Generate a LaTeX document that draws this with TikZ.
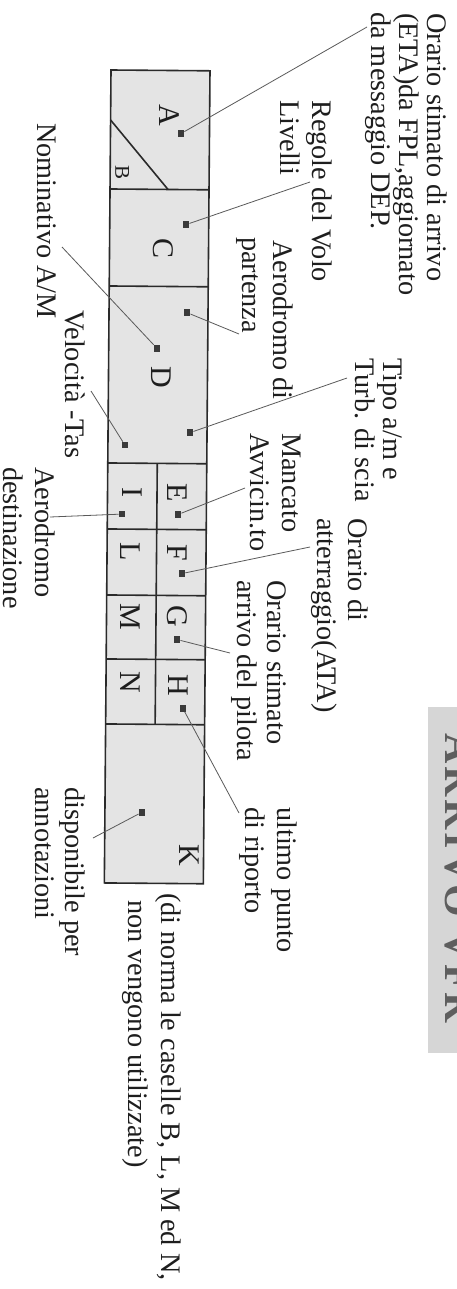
\documentclass[tikz,border=0pt]{standalone}
\usepackage{fontspec}
\setmainfont{Liberation Serif}
\definecolor{txtc}{HTML}{1E1E1E}
\definecolor{linec}{HTML}{2A2A2A}
\definecolor{boxfill}{HTML}{E4E4E4}
\definecolor{markc}{HTML}{3A3A3A}
\definecolor{leadc}{HTML}{5A5A5A}
\definecolor{barfill}{HTML}{D6D6D6}
\definecolor{bartext}{HTML}{5E5E5E}
\begin{document}
\begin{tikzpicture}[x=1pt,y=-1pt,
  lbl/.style={rotate=-90,anchor=base west,inner sep=0pt,text=txtc,font=\fontsize{28.3}{28}\selectfont},
  letter/.style={rotate=-90,anchor=center,inner sep=0pt,text=txtc,font=\fontsize{30}{30}\selectfont},
  mk/.style={rectangle,fill=markc,minimum size=6.5pt,inner sep=0pt},
  boxline/.style={draw=linec,line width=1.6pt},
  leader/.style={draw=leadc,line width=0.8pt}]
\useasboundingbox (0,0) rectangle (457,1289);
\fill[white] (0,0) rectangle (457,1289);
% title bar (cut by the page edge, as in the reference)
\begin{scope}
\clip (0,0) rectangle (457,1289);
\fill[barfill] (428,707) rectangle (470,1053);
\node[rotate=-90,anchor=base west,inner sep=0pt,text=bartext,font=\fontsize{42}{42}\selectfont\bfseries\addfontfeature{LetterSpace=7}] (title) at (445,733) {ARRIVO VFR};
\end{scope}
% the strip
\begin{scope}[rotate around={-0.47:(111,70)}]
\fill[boxfill] (111,70) rectangle (210,883);
\draw[boxline] (111,189) -- (210,189);
\draw[boxline] (111,286) -- (210,286);
\draw[boxline] (111,463) -- (210,463);
\draw[boxline] (111,529) -- (210,529);
\draw[boxline] (111,595) -- (210,595);
\draw[boxline] (111,659) -- (210,659);
\draw[boxline] (111,724) -- (210,724);
\draw[boxline] (160.5,463) -- (160.5,724);
\draw[boxline] (111,120) -- (169,189);
\draw[boxline] (111,70) rectangle (210,883);
\node[letter] (lA) at (170,115) {A};
\node[letter,font=\fontsize{21}{21}\selectfont] (lB) at (123,172) {B};
\node[letter] (lC) at (164.5,248) {C};
\node[letter] (lD) at (163.5,377) {D};
\node[letter] (lE) at (180.5,492) {E};
\node[letter] (lI) at (135.5,492) {I};
\node[letter] (lF) at (181,552) {F};
\node[letter] (lL) at (134,552) {L};
\node[letter] (lG) at (181.5,616) {G};
\node[letter] (lM) at (134.5,617) {M};
\node[letter] (lH) at (183,685) {H};
\node[letter] (lN) at (135,682) {N};
\node[letter] (lK) at (195.4,855) {K};
\node[mk] (mA) at (181.5,133) {};
\node[mk] (mC) at (187.3,224) {};
\node[mk] (mDp) at (189,312) {};
\node[mk] (mNom) at (159.3,348) {};
\node[mk] (mTipo) at (193,432) {};
\node[mk] (mVel) at (128,445) {};
\node[mk] (mE) at (181.6,514) {};
\node[mk] (mI) at (125.6,514) {};
\node[mk] (mF) at (186,573) {};
\node[mk] (mG) at (181.7,639) {};
\node[mk] (mH) at (188.2,708) {};
\node[mk] (mK) at (148,812) {};
\end{scope}
% labels
\node[lbl] (t1a) at (427,13) {Orario stimato di arrivo};
\node[lbl] (t1b) at (399,13) {(ETA)da FPL,aggiornato};
\node[lbl] (t1c) at (371,12) {da messaggio DEP.};
\node[lbl] (t2a) at (312,100) {Regole del Volo};
\node[lbl] (t2b) at (280,100) {Livelli};
\node[lbl] (t3a) at (273,240) {Aerodromo di};
\node[lbl] (t3b) at (242,237) {partenza};
\node[lbl] (t4) at (37,123) {Nominativo A/M};
\node[lbl] (t5) at (65,310) {Velocità -Tas};
\node[lbl] (t6a) at (383,358) {Tipo a/m e};
\node[lbl] (t6b) at (355,358) {Turb. di scia};
\node[lbl] (t7a) at (282,433) {Mancato};
\node[lbl] (t7b) at (250,433) {Avvicin.to};
\node[lbl] (t8a) at (348,518) {Orario di};
\node[lbl] (t8b) at (317,518) {atterraggio(ATA)};
\node[lbl] (t9a) at (267,580) {Orario stimato};
\node[lbl] (t9b) at (237,580) {arrivo del pilota};
\node[lbl] (t10a) at (277,807) {ultimo punto};
\node[lbl] (t10b) at (245,807) {di riporto};
\node[lbl] (t11a) at (65,787) {disponibile per};
\node[lbl] (t11b) at (35,787) {annotazioni};
\node[lbl] (t12a) at (35,467) {Aerodromo};
\node[lbl] (t12b) at (4,467) {destinazione};
\node[lbl] (t13a) at (161,893) {(di norma le caselle B, L, M ed N,};
\node[lbl] (t13b) at (128,900) {non vengono utilizzate)};
% leader ends
\coordinate (eA) at (367,27);
\coordinate (eC) at (310,182);
\coordinate (eDp) at (239,334);
\coordinate (eNom) at (62,247);
\coordinate (eTipo) at (347,378);
\coordinate (eVel) at (91,391);
\coordinate (eE) at (245,488);
\coordinate (eI) at (50,517);
\coordinate (eF) at (310,547);
\coordinate (eG) at (230,653);
\coordinate (eH) at (239,813);
\coordinate (eK) at (93,838);
\draw[leader] (mA) -- (eA);
\draw[leader] (mC) -- (eC);
\draw[leader] (mDp) -- (eDp);
\draw[leader] (mNom) -- (eNom);
\draw[leader] (mTipo) -- (eTipo);
\draw[leader] (mVel) -- (eVel);
\draw[leader] (mE) -- (eE);
\draw[leader] (mI) -- (eI);
\draw[leader] (mF) -- (eF);
\draw[leader] (mG) -- (eG);
\draw[leader] (mH) -- (eH);
\draw[leader] (mK) -- (eK);
\end{tikzpicture}
\end{document}
